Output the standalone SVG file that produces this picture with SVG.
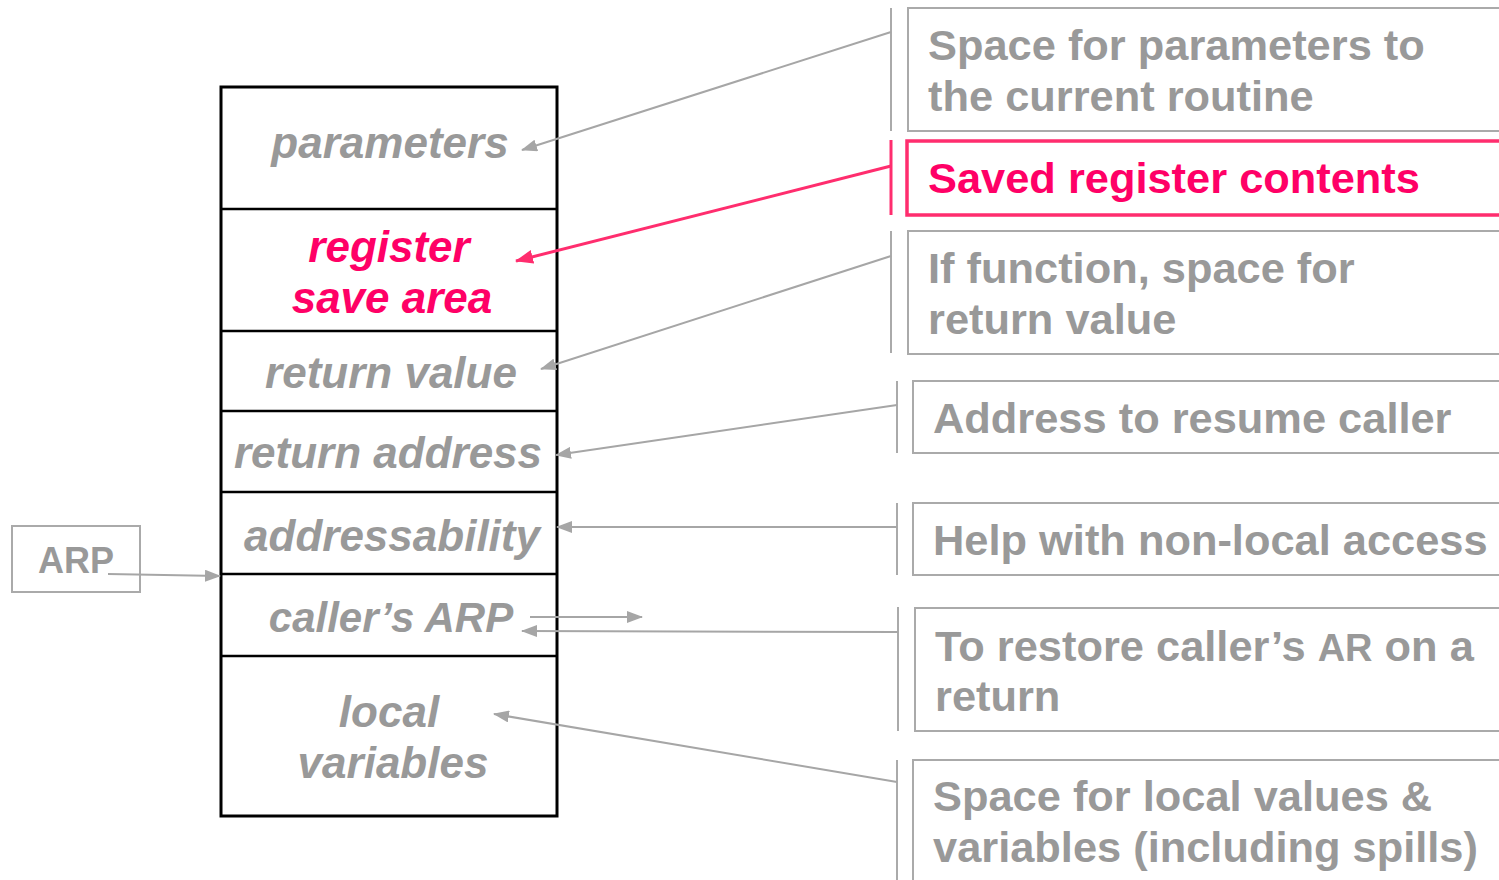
<svg xmlns="http://www.w3.org/2000/svg" width="1499" height="880" viewBox="0 0 1499 880">
<style>
.st{fill:none;stroke:#000;stroke-width:3}
.dv{stroke:#000;stroke-width:2.5}
.lt{font-family:"Liberation Sans",Arial,sans-serif;font-weight:bold;font-style:italic;font-size:44px;fill:#999;text-anchor:middle}
.rt{font-family:"Liberation Sans",Arial,sans-serif;font-weight:bold;font-size:43.4px;fill:#999}
.lt.pk,.rt.pk{fill:#ff0066}
.bx{fill:#fff;stroke:#aaa;stroke-width:2}
.br{stroke:#aaa;stroke-width:2}
.pbx{fill:#fff;stroke:#ff2d6e;stroke-width:3.5}
.pbr{stroke:#ff2d6e;stroke-width:3}
.cn{fill:none;stroke:#a6a6a6;stroke-width:2}
.cp{fill:none;stroke:#ff2d6e;stroke-width:3}
</style>
<defs>
<marker id="ag" markerWidth="16" markerHeight="12" refX="15" refY="6" orient="auto" markerUnits="userSpaceOnUse"><path d="M0,0 L16,6 L0,12 Z" fill="#a6a6a6"/></marker>
<marker id="ap" markerWidth="18" markerHeight="14" refX="17" refY="7" orient="auto" markerUnits="userSpaceOnUse"><path d="M0,0 L18,7 L0,14 Z" fill="#ff2d6e"/></marker>
</defs>
<g id="stack">
<rect class="st" x="221" y="87" width="336" height="729"/>
<line class="dv" x1="221" y1="209" x2="557" y2="209"/>
<line class="dv" x1="221" y1="331" x2="557" y2="331"/>
<line class="dv" x1="221" y1="411" x2="557" y2="411"/>
<line class="dv" x1="221" y1="492" x2="557" y2="492"/>
<line class="dv" x1="221" y1="574" x2="557" y2="574"/>
<line class="dv" x1="221" y1="656" x2="557" y2="656"/>
</g>
<g id="parameters"><text class="lt" x="390" y="158">parameters</text></g>
<g id="register-save-area"><text class="lt pk" x="389" y="262">register</text><text class="lt pk" x="392" y="313">save area</text></g>
<g id="return-value"><text class="lt" x="391" y="388">return value</text></g>
<g id="return-address"><text class="lt" x="388" y="468">return address</text></g>
<g id="addressability"><text class="lt" x="392" y="551">addressability</text></g>
<g id="callers-arp"><text class="lt" x="391" y="632" style="font-size:42px">caller’s ARP</text></g>
<g id="local-variables"><text class="lt" x="389" y="727">local</text><text class="lt" x="393" y="778">variables</text></g>
<g id="arp"><rect class="bx" x="12" y="526" width="128" height="66"/><text class="rt" x="38" y="573" style="font-size:36px">ARP</text></g>
<g id="desc-params"><line class="br" x1="891" y1="8" x2="891" y2="131"/><rect class="bx" x="908" y="8" width="600" height="123"/><text class="rt" x="928" y="60">Space for parameters to</text><text class="rt" x="928" y="111">the current routine</text></g>
<g id="desc-saved"><line class="pbr" x1="891" y1="140" x2="891" y2="215"/><rect class="pbx" x="907" y="141" width="600" height="74"/><text class="rt pk" x="928" y="193">Saved register contents</text></g>
<g id="desc-retval"><line class="br" x1="891" y1="231" x2="891" y2="353"/><rect class="bx" x="908" y="231" width="600" height="123"/><text class="rt" x="928" y="283">If function, space for</text><text class="rt" x="928" y="334">return value</text></g>
<g id="desc-retaddr"><line class="br" x1="897" y1="381" x2="897" y2="453"/><rect class="bx" x="913" y="381" width="600" height="72"/><text class="rt" x="933" y="433">Address to resume caller</text></g>
<g id="desc-access"><line class="br" x1="897" y1="503" x2="897" y2="575"/><rect class="bx" x="913" y="503" width="600" height="72"/><text class="rt" x="933" y="555">Help with non-local access</text></g>
<g id="desc-restore"><line class="br" x1="898" y1="607" x2="898" y2="731"/><rect class="bx" x="915" y="608" width="600" height="123"/><text class="rt" x="935" y="661">To restore caller’s <tspan style="font-size:38px">AR</tspan> on a</text><text class="rt" x="935" y="711">return</text></g>
<g id="desc-locals"><line class="br" x1="897" y1="760" x2="897" y2="880"/><rect class="bx" x="913" y="760" width="600" height="130"/><text class="rt" x="933" y="811">Space for local values &amp;</text><text class="rt" x="933" y="862">variables (including spills)</text></g>
<g id="connectors">
<line class="cn" x1="891" y1="32" x2="522" y2="150" marker-end="url(#ag)"/>
<line class="cp" x1="891" y1="166" x2="516" y2="261" marker-end="url(#ap)"/>
<line class="cn" x1="891" y1="256" x2="541" y2="369" marker-end="url(#ag)"/>
<line class="cn" x1="897" y1="405" x2="556" y2="455" marker-end="url(#ag)"/>
<line class="cn" x1="897" y1="527" x2="557" y2="527" marker-end="url(#ag)"/>
<line class="cn" x1="108" y1="574" x2="220" y2="576" marker-end="url(#ag)"/>
<line class="cn" x1="530" y1="617" x2="642" y2="617" marker-end="url(#ag)"/>
<line class="cn" x1="898" y1="632" x2="522" y2="631" marker-end="url(#ag)"/>
<line class="cn" x1="897" y1="782" x2="494" y2="714" marker-end="url(#ag)"/>
</g>
</svg>
